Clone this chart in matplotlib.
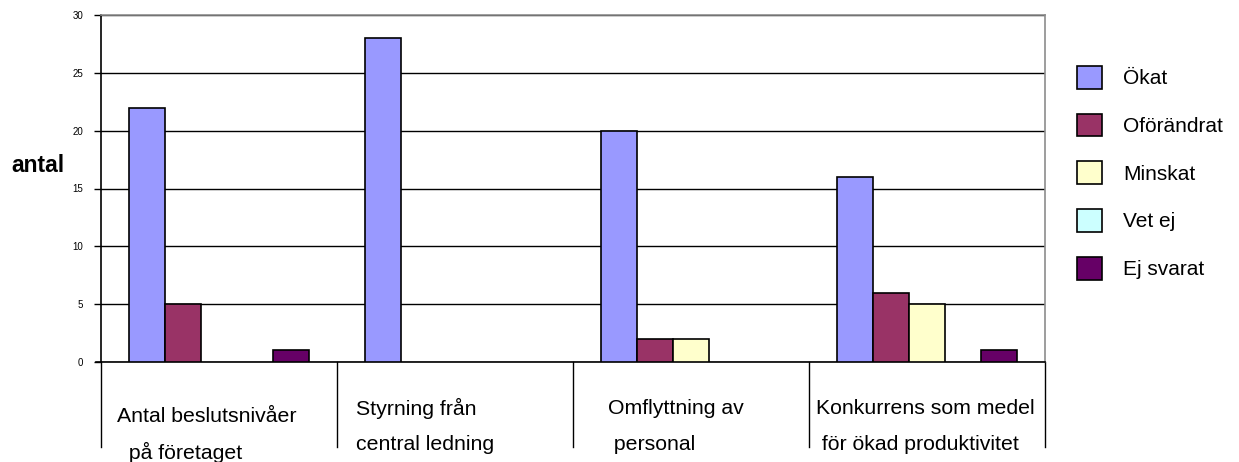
import matplotlib
matplotlib.use("Agg")
import matplotlib.pyplot as plt
from matplotlib.patches import Patch
import numpy as np

plt.rcParams['font.family'] = ['Liberation Sans', 'DejaVu Sans']

categories = [
    ["Antal beslutsnivåer", " på företaget"],
    ["Styrning från", "central ledning"],
    ["Omflyttning av", " personal"],
    ["Konkurrens som medel", " för ökad produktivitet"],
]
series = ["Ökat", "Oförändrat", "Minskat", "Vet ej", "Ej svarat"]
okat = [22, 28, 20, 16]
oforandrat = [5, 0, 2, 6]
minskat = [0, 0, 2, 5]
vet_ej = [0, 0, 0, 0]
ej_svarat = [1, 0, 0, 1]
values = [okat, oforandrat, minskat, vet_ej, ej_svarat]
colors = ["#9999FF", "#993366", "#FFFFCC", "#CCFFFF", "#660066"]
yticks = [0, 5, 10, 15, 20, 25, 30]

fig = plt.figure(figsize=(12.39, 4.62), dpi=100)
ax = fig.add_axes([101 / 1239, 1 - 362 / 462, 944 / 1239, 347 / 462])

n = len(series)
bar_w = 36 / 236
x = np.arange(len(categories))
for i, (name, vals, col) in enumerate(zip(series, values, colors)):
    offs = (i - (n - 1) / 2) * bar_w
    heights = np.array(vals, dtype=float)
    mask = heights > 0
    ax.bar(x[mask] + offs, heights[mask], width=bar_w, color=col,
           edgecolor="black", linewidth=1.2, zorder=3)

ax.set_xlim(-0.5, len(categories) - 0.5)
ax.set_ylim(0, 30)
ax.set_yticks(yticks)
ax.set_yticklabels([str(t) for t in yticks], fontsize=7)
ax.tick_params(axis="y", direction="out", length=5, width=1, pad=8)
ax.set_xticks([])
ax.yaxis.grid(True, color="black", linewidth=1, zorder=0)
ax.set_axisbelow(True)

for side in ("top", "right"):
    ax.spines[side].set_color("#8c8c8c")
    ax.spines[side].set_linewidth(1.2)
for side in ("left", "bottom"):
    ax.spines[side].set_color("black")
    ax.spines[side].set_linewidth(1.2)

# category separators hanging below the axis
trans = ax.get_xaxis_transform()
for b in np.arange(len(categories) + 1) - 0.5:
    ax.plot([b, b], [0, -85 / 347], transform=trans, color="black",
            linewidth=1, clip_on=False)
ax.plot([-0.5 - 5 / 236, -0.5], [0, 0], transform=trans, color="black",
        linewidth=1.2, clip_on=False)

# two-line category labels
label_x = [(16, 22), (19, 19), (35, 35), (7, 7)]
label_y = [(-54, -90), (-46, -83), (-46, -83), (-46, -83)]
for k, (lines, xo, yo) in enumerate(zip(categories, label_x, label_y)):
    for line, dx, dy in zip(lines, xo, yo):
        ax.text(k - 0.5 + dx / 236, dy / 347, line, transform=trans,
                ha="left", va="center", fontsize=15.3, clip_on=False)

fig.text(38 / 1239, 1 - 165 / 462, "antal", fontsize=16.5, fontweight="bold",
         ha="center", va="center")

handles = [Patch(facecolor=c, edgecolor="black", linewidth=1.2) for c in colors]
fig.legend(handles, series, loc="upper left",
           bbox_to_anchor=(1077 / 1239, 1 - 66 / 462), frameon=False,
           fontsize=15, handlelength=1.2, handleheight=1.3,
           handletextpad=1.0, labelspacing=1.2, borderpad=0,
           borderaxespad=0)

fig.savefig("out.png", dpi=100)
